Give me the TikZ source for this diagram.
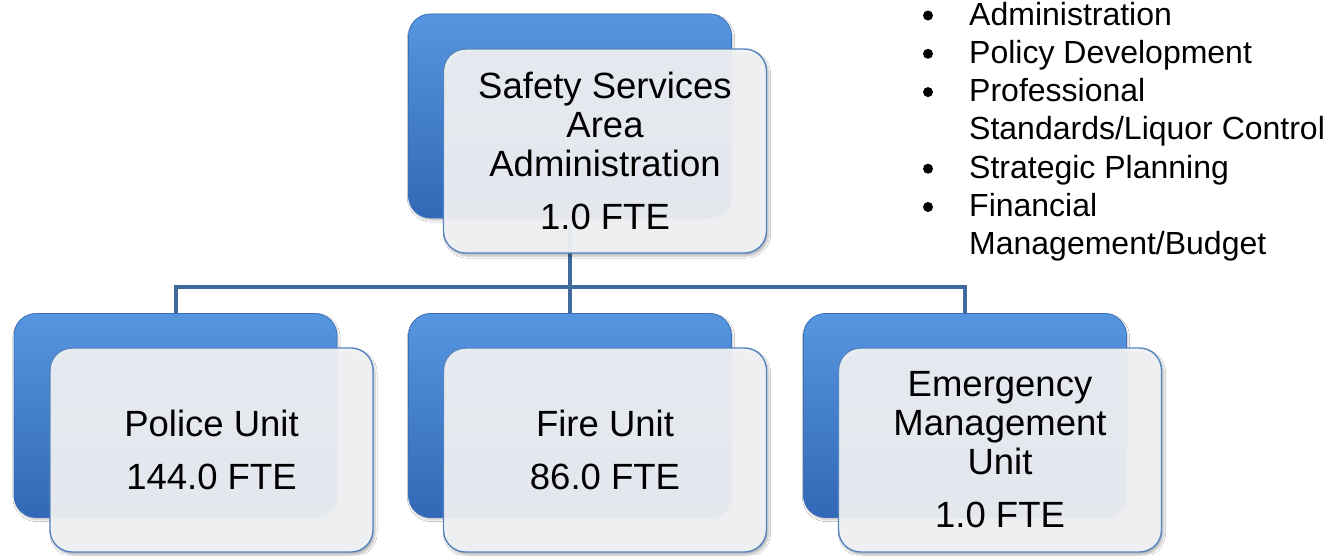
\documentclass[tikz,border=0pt]{standalone}
\usepackage{fontspec}
\setmainfont{Liberation Sans}
\usetikzlibrary{shadows.blur}
\definecolor{backtop}{HTML}{5696E0}
\definecolor{backmid}{HTML}{3F7ED0}
\definecolor{backbot}{HTML}{3268B6}
\definecolor{backline}{HTML}{3A70BC}
\definecolor{frontfill}{HTML}{F3F4F6}
\definecolor{frontline}{HTML}{5584BF}
\definecolor{conn}{HTML}{416A9C}
\begin{document}
\begin{tikzpicture}[x=1pt,y=-1pt,
  backbox/.style={rectangle, rounded corners=22pt, minimum width=323pt, minimum height=204pt,
    top color=backtop, middle color=backmid, bottom color=backbot, draw=backline, line width=0.8pt,
    blur shadow={shadow blur steps=5, shadow xshift=1pt, shadow yshift=-2pt, shadow opacity=25}},
  frontbox/.style={rectangle, rounded corners=22pt, minimum width=323pt, minimum height=204pt,
    fill=frontfill, fill opacity=0.93, text opacity=1, draw=frontline, line width=1.4pt,
    blur shadow={shadow blur steps=6, shadow xshift=2pt, shadow yshift=-3pt, shadow opacity=30},
    align=center, font=\fontsize{36.5}{39}\selectfont, text=black},
  connector/.style={draw=conn, line width=4pt},
  item/.style={anchor=base west, align=left, font=\fontsize{32}{38.3}\selectfont, inner sep=0pt},
  bul/.style={circle, fill=black, inner sep=0pt, minimum size=10pt}
]
\useasboundingbox (0,0) rectangle (1343,555);
\fill[white] (0,0) rectangle (1343,555);

% back boxes
\node[backbox] (topback) at (570,116) {};
\node[backbox] (policeback) at (175.5,415.5) {};
\node[backbox] (fireback) at (570,415.5) {};
\node[backbox] (emback) at (965,415.5) {};

% connectors
\coordinate (bus) at (570,287);
\draw[connector] (topback.south) -- (bus);
\draw[connector] (bus) -| (policeback.north);
\draw[connector] (bus) -| (emback.north);
\draw[connector] (bus) -- (fireback.north);

% front boxes
\node[frontbox] (top) at (605,151) {Safety Services\\Area\\Administration\\[14pt]1.0 FTE};
\node[frontbox] (police) at (211.5,450) {Police Unit\\[14pt]144.0 FTE};
\node[frontbox] (fire) at (605,450) {Fire Unit\\[14pt]86.0 FTE};
\node[frontbox] (em) at (1000,450) {Emergency\\Management\\Unit\\[14pt]1.0 FTE};

% bullet list
\node[bul] (b1) at (928,15.5) {};
\node[item] (i1) at (969,25) {Administration};
\node[bul] (b2) at (928,53.8) {};
\node[item] (i2) at (969,63.3) {Policy Development};
\node[bul] (b3) at (928,92.1) {};
\node[item] (i3) at (969,101.6) {Professional};
\node[item] (i3b) at (969,139.9) {Standards/Liquor Control};
\node[bul] (b4) at (928,168.7) {};
\node[item] (i4) at (969,178.2) {Strategic Planning};
\node[bul] (b5) at (928,207) {};
\node[item] (i5) at (969,216.5) {Financial};
\node[item] (i5b) at (969,254.8) {Management/Budget};
\end{tikzpicture}
\end{document}
